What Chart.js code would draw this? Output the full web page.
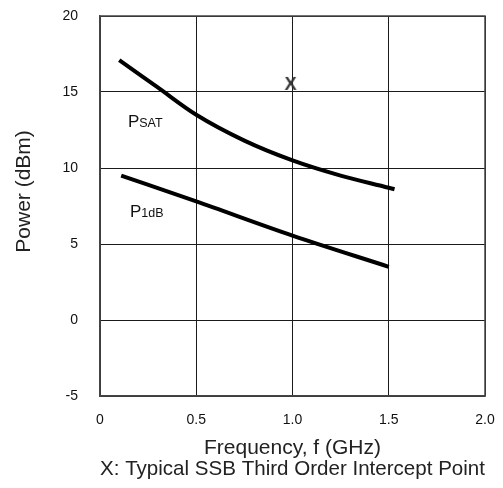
<!DOCTYPE html>
<html>
<head>
<meta charset="utf-8">
<script src="https://cdn.jsdelivr.net/npm/chart.js@4/dist/chart.umd.min.js"></script>
<style>
  html, body { margin: 0; padding: 0; background: #fff; }
  #wrap { width: 503px; height: 488px; }
</style>
</head>
<body>
<div id="wrap"><canvas id="grafik" width="503" height="488"></canvas></div>
<script>
// Data kurva daya terhadap frekuensi
const psatFreq = [0.1, 0.3, 0.5, 0.75, 1.0, 1.25, 1.5, 1.53];
const psatPower = [17.1, 15.3, 13.5, 11.8, 10.5, 9.5, 8.7, 8.6];
const p1dbFreq = [0.11, 0.5, 1.0, 1.5];
const p1dbPower = [9.5, 7.8, 5.55, 3.5];
// Titik intercept orde tiga (ditandai "X")
const ipFreq = [0.99];
const ipPower = [15.6];
// Tick sumbu
const xTicks = [0, 0.5, 1.0, 1.5, 2.0];
const xTickLabels = ['0', '0.5', '1.0', '1.5', '2.0'];
const yTicks = [-5, 0, 5, 10, 15, 20];
// Label kurva: huruf utama + subskrip kapital kecil
const curveLabels = [
    { main: 'P', sub: 'SAT', x: 0.145, y: 12.7 },
    { main: 'P', sub: '1dB', x: 0.156, y: 6.78 }
];

const FONT = '"Liberation Sans", Arial, Helvetica, sans-serif';

function toPoints(xs, ys) {
    return xs.map((x, i) => ({ x: x, y: ys[i] }));
}

// Penanda "X" digambar ke kanvas kecil lalu dipakai sebagai pointStyle
const tandaX = document.createElement('canvas');
tandaX.width = 18; tandaX.height = 18;
(function() {
    const c = tandaX.getContext('2d');
    c.font = 'bold 18px ' + FONT;
    c.textAlign = 'center';
    c.textBaseline = 'alphabetic';
    c.fillStyle = '#333';
    c.fillText('X', 9, 15.5);
})();

// Bingkai kotak di sekeliling area plot
const bingkai = {
    id: 'bingkai',
    beforeDatasetsDraw(chart) {
        const a = chart.chartArea;
        const ctx = chart.ctx;
        ctx.save();
        ctx.strokeStyle = '#444';
        ctx.lineWidth = 1.5;
        ctx.strokeRect(a.left, a.top, a.right - a.left, a.bottom - a.top);
        ctx.restore();
    }
};

const labelKurva = {
    id: 'labelKurva',
    afterDatasetsDraw(chart) {
        const ctx = chart.ctx;
        const sx = chart.scales.x, sy = chart.scales.y;
        ctx.save();
        ctx.fillStyle = '#111';
        ctx.textBaseline = 'alphabetic';
        ctx.textAlign = 'left';
        curveLabels.forEach(l => {
            const px = sx.getPixelForValue(l.x);
            const py = sy.getPixelForValue(l.y);
            ctx.font = '17px ' + FONT;
            ctx.fillText(l.main, px, py);
            const w = ctx.measureText(l.main).width;
            ctx.font = '12.5px ' + FONT;
            ctx.fillText(l.sub, px + w, py);
        });
        ctx.restore();
    }
};

const ctx = document.getElementById('grafik').getContext('2d');
new Chart(ctx, {
    type: 'line',
    data: {
        datasets: [{
            label: 'PSAT',
            data: toPoints(psatFreq, psatPower),
            borderColor: '#000',
            borderWidth: 4,
            pointRadius: 0,
            fill: false,
            cubicInterpolationMode: 'monotone',
            borderCapStyle: 'butt'
        }, {
            label: 'P1dB',
            data: toPoints(p1dbFreq, p1dbPower),
            borderColor: '#000',
            borderWidth: 4,
            pointRadius: 0,
            fill: false,
            cubicInterpolationMode: 'monotone',
            borderCapStyle: 'butt'
        }, {
            label: 'IP3',
            data: toPoints(ipFreq, ipPower),
            showLine: false,
            pointStyle: tandaX,
            pointRadius: 9
        }]
    },
    options: {
        responsive: false,
        animation: false,
        layout: { padding: { top: 16, right: 18, left: 0, bottom: 0 } },
        plugins: {
            legend: { display: false },
            tooltip: { enabled: false }
        },
        scales: {
            x: {
                type: 'linear',
                min: 0,
                max: 2.0,
                afterFit(s) {
                    s.height = 92;
                    s.paddingLeft = 0;
                    s.paddingRight = 0;
                },
                afterBuildTicks(s) { s.ticks = xTicks.map(v => ({ value: v })); },
                grid: { color: '#1a1a1a', lineWidth: 1, drawTicks: false },
                border: { color: '#444', width: 1.5 },
                ticks: {
                    padding: 16,
                    color: '#111',
                    font: { family: FONT, size: 14 },
                    maxRotation: 0,
                    callback: (v) => xTickLabels[xTicks.indexOf(v)]
                },
                title: {
                    display: true,
                    text: ['Frequency, f (GHz)', 'X: Typical SSB Third Order Intercept Point'],
                    color: '#222',
                    font: { family: FONT, size: 21, lineHeight: '21px' },
                    padding: { top: 0, bottom: 8 }
                }
            },
            y: {
                type: 'linear',
                min: -5,
                max: 20,
                afterFit(s) {
                    s.width = 100;
                    s.paddingTop = 0;
                    s.paddingBottom = 0;
                },
                afterBuildTicks(s) { s.ticks = yTicks.map(v => ({ value: v })); },
                grid: { color: '#1a1a1a', lineWidth: 1, drawTicks: false },
                border: { color: '#444', width: 1.5 },
                ticks: {
                    padding: 22,
                    color: '#111',
                    font: { family: FONT, size: 14 }
                },
                title: {
                    display: true,
                    text: '     Power (dBm)',
                    color: '#222',
                    font: { family: FONT, size: 21, lineHeight: '21px' },
                    padding: { top: 14, bottom: 0 }
                }
            }
        }
    },
    plugins: [bingkai, labelKurva]
});
</script>
</body>
</html>
